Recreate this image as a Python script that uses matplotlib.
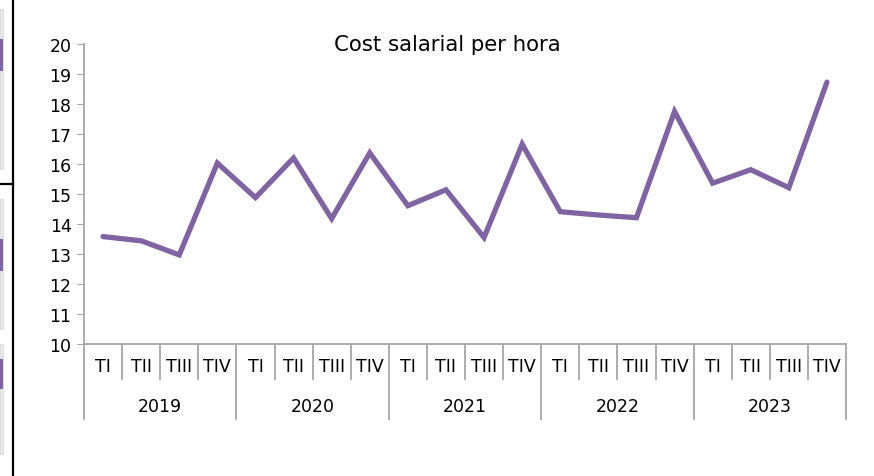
import matplotlib
matplotlib.use('Agg')
import matplotlib.pyplot as plt
import matplotlib.patches as mpatches

plt.rcParams['font.family'] = ['DejaVu Sans']

# Quarterly hourly labour cost
quarters = ['TI', 'TII', 'TIII', 'TIV']
years = ['2019', '2020', '2021', '2022', '2023']
cost = [
    13.58, 13.44, 12.97, 16.03,   # 2019
    14.88, 16.20, 14.18, 16.37,   # 2020
    14.61, 15.14, 13.55, 16.66,   # 2021
    14.41, 14.30, 14.21, 17.75,   # 2022
    15.36, 15.81, 15.21, 18.73,   # 2023
]

purple = '#8064A2'
grey = '#A6A6A6'

W, H = 874, 477
fig = plt.figure(figsize=(W / 100, H / 100), dpi=100)
ax = fig.add_axes([84 / W, (H - 345) / H, (846 - 84) / W, 300 / H])

x = list(range(len(cost)))
ax.plot(x, cost, color=purple, linewidth=3.8, solid_joinstyle='miter',
        solid_capstyle='round')

ax.set_xlim(-0.5, len(cost) - 0.5)
ax.set_ylim(10, 20)
ax.set_yticks(range(10, 21))
ax.tick_params(axis='y', length=5, color=grey, labelsize=12.5, pad=4,
               labelcolor='#000000')
ax.set_xticks([])

for side in ['top', 'right']:
    ax.spines[side].set_visible(False)
for side in ['left', 'bottom']:
    ax.spines[side].set_color(grey)
    ax.spines[side].set_linewidth(1.3)

# two-level category axis
tr = ax.get_xaxis_transform()
q_h = 35 / 300
y_h = 75 / 300
for i in range(len(cost) + 1):
    depth = y_h if i % 4 == 0 else q_h
    ax.plot([i - 0.5, i - 0.5], [0, -depth], transform=tr, color=grey,
            linewidth=1.3, clip_on=False)
for i in range(len(cost)):
    ax.text(i, -22 / 300, quarters[i % 4], transform=tr, ha='center',
            va='center', fontsize=12.5)
for j, yr in enumerate(years):
    ax.text(j * 4 + 1.5, -62 / 300, yr, transform=tr, ha='center',
            va='center', fontsize=12.5)

fig.text(447 / W, (H - 45) / H, 'Cost salarial per hora', ha='center',
         va='center', fontsize=15.3)

# fragments of neighbouring panels visible at the left edge
fig.add_artist(plt.Line2D([12.5 / W, 12.5 / W], [0, 1], color='black',
                          linewidth=1.6))
fig.add_artist(plt.Line2D([0, 12.5 / W], [(H - 185) / H, (H - 185) / H],
                          color='black', linewidth=1.6))
for top, bot in [(10, 170), (200, 330), (345, 455)]:
    fig.add_artist(mpatches.Rectangle((0, (H - bot) / H), 3 / W, (bot - top) / H,
                                      facecolor='#ECE8F2', edgecolor='#D9D9D9',
                                      linewidth=0.6))
for top, bot in [(40, 72), (240, 272), (360, 390)]:
    fig.add_artist(mpatches.Rectangle((0, (H - bot) / H), 3 / W, (bot - top) / H,
                                      facecolor=purple, edgecolor='none'))

fig.savefig('out.png', dpi=100, facecolor='white')
